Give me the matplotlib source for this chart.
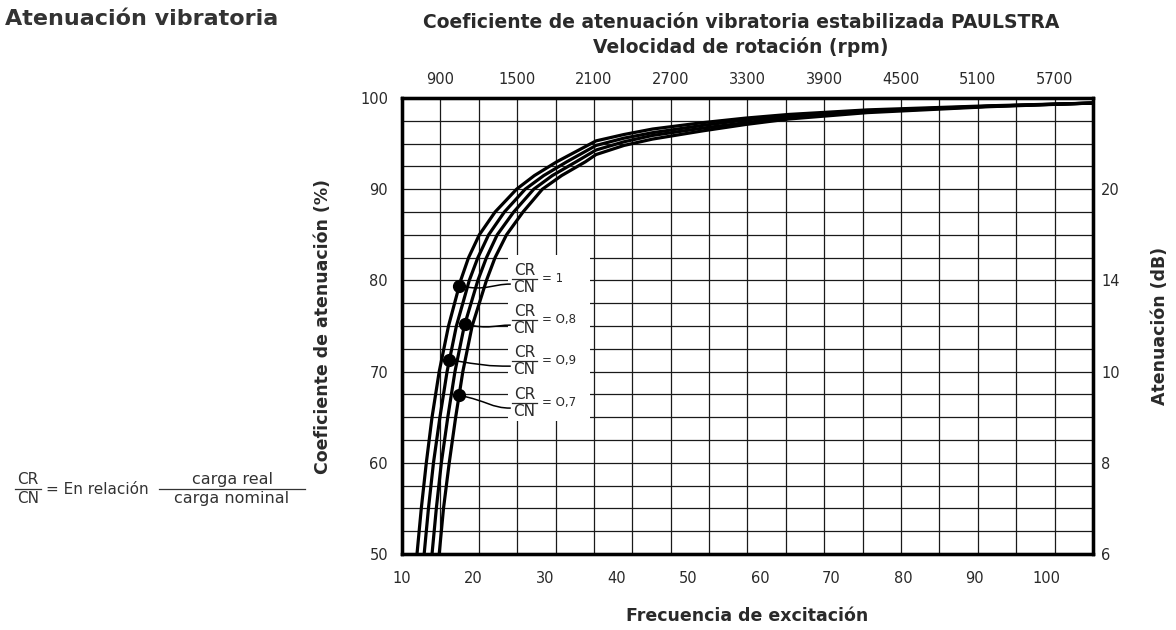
import numpy as np
import matplotlib
matplotlib.use("Agg")
import matplotlib.pyplot as plt
from matplotlib.path import Path
from matplotlib.patches import PathPatch, Rectangle
from matplotlib.lines import Line2D

plt.rcParams['font.family'] = ['DejaVu Sans']

# %% datos (frecuencia Hz, coeficiente %)
# tramo bajo: frecuencia para cada nivel de coeficiente
coef = [50, 55, 60, 65, 70, 75, 80, 82.5, 85, 87.5, 90, 91.5, 93]
f_cr10 = [12.1, 12.7, 13.4, 14.2, 15.2, 16.5, 18.2, 19.3, 20.8, 23.0, 26.0, 28.5, 31.6]
f_cr09 = [13.1, 13.7, 14.4, 15.3, 16.3, 17.6, 19.4, 20.6, 22.1, 24.3, 27.2, 29.8, 33.0]
f_cr08 = [14.2, 14.8, 15.5, 16.4, 17.4, 18.7, 20.6, 21.8, 23.3, 25.6, 28.4, 31.0, 34.3]
f_cr07 = [15.2, 15.8, 16.6, 17.5, 18.5, 19.8, 21.8, 23.0, 24.6, 26.9, 29.6, 32.3, 35.6]

# tramo alto: coeficiente para cada frecuencia
f_alto = [37.1, 41, 45, 52, 58, 64, 75, 92, 106.5]
c_cr10 = [95.3, 96.0, 96.6, 97.3, 97.8, 98.2, 98.7, 99.15, 99.45]
c_cr09 = [94.8, 95.6, 96.2, 97.0, 97.6, 98.05, 98.6, 99.1, 99.45]
c_cr08 = [94.3, 95.2, 95.9, 96.7, 97.3, 97.85, 98.5, 99.1, 99.45]
c_cr07 = [93.8, 94.8, 95.5, 96.4, 97.1, 97.7, 98.4, 99.05, 99.45]

etiquetas = ["1", "O,8", "O,9", "O,7"]
nivel_punto = [79.4, 75.2, 71.3, 67.4]      # donde va el punto sobre cada curva
nivel_etiqueta = [80.2, 75.7, 71.2, 66.6]

hz_ticks = [10, 20, 30, 40, 50, 60, 70, 80, 90, 100]
rpm_ticks = [900, 1500, 2100, 2700, 3300, 3900, 4500, 5100, 5700]
db_pos = [50, 60, 70, 80, 90]
db_labels = ["6", "8", "10", "14", "20"]

curvas = {
    "1": (f_cr10, c_cr10),
    "O,9": (f_cr09, c_cr09),
    "O,8": (f_cr08, c_cr08),
    "O,7": (f_cr07, c_cr07),
}

gris = "#2a2a2a"

# %% figura
fig = plt.figure(figsize=(11.76, 6.3), dpi=100, facecolor="white")
ax = fig.add_axes([0.3418, 0.1206, 0.5876, 0.7238])
ax_top = ax.twiny()
ax_r = ax.twinx()

ax_top.set_zorder(0)
ax.set_zorder(1)
ax_r.set_zorder(2)
ax.patch.set_visible(False)

ax.set_xlim(10, 106.5)
ax.set_ylim(50, 100)
ax_r.set_ylim(50, 100)
ax_top.set_xlim(600, 6000)

# rejilla vertical (cada 300 rpm) y horizontal (cada 2,5 %)
ax_top.set_xticks(rpm_ticks)
ax_top.set_xticks(np.arange(600, 6001, 300), minor=True)
ax_top.xaxis.grid(True, which="both", color="#1a1a1a", lw=0.9)
ax_top.set_yticks([])
ax.set_yticks([50, 60, 70, 80, 90, 100])
ax.set_yticks(np.arange(50, 100.1, 2.5), minor=True)
ax.yaxis.grid(True, which="both", color="#1a1a1a", lw=0.9)
ax.set_axisbelow(True)

ax.set_xticks(hz_ticks)
ax_r.set_yticks(db_pos)
ax_r.set_yticklabels(db_labels)

for a in (ax, ax_top, ax_r):
    a.tick_params(which="both", length=0, labelsize=10.5, colors=gris)
    for s in a.spines.values():
        s.set_linewidth(2.3)
ax.tick_params(axis="x", pad=12)
ax.tick_params(axis="y", pad=10)
ax_top.tick_params(axis="x", pad=8)
ax_r.tick_params(axis="y", pad=6)

# curvas
for nombre, (fb, fa_c) in curvas.items():
    x = list(fb) + list(f_alto)
    y = list(coef) + list(fa_c)
    ax.plot(x, y, color="black", lw=2.3, zorder=3, solid_capstyle="butt",
            solid_joinstyle="round")

# caja blanca con las etiquetas
ax.add_patch(Rectangle((24.8, 64.6), 11.5, 18.2, facecolor="white",
                       edgecolor="none", zorder=2))

for et, nivp, nivt in zip(etiquetas, nivel_punto, nivel_etiqueta):
    fb, fa_c = curvas[et]
    xd = np.interp(nivp, list(coef) + list(fa_c), list(fb) + list(f_alto))
    ax.plot(xd, nivp, "o", color="black", ms=8.5, zorder=5)
    xe, ye = 25.2, nivt - 0.6
    xm = xd + 0.55 * (xe - xd)
    camino = Path([(xd, nivp), (xm, nivp - 0.6), (xm + 0.5, ye), (xe, ye)],
                  [Path.MOVETO, Path.CURVE4, Path.CURVE4, Path.CURVE4])
    ax.add_patch(PathPatch(camino, facecolor="none", edgecolor="black",
                           lw=1.1, zorder=4))
    ax.plot([25.4, 28.8], [nivt, nivt], color=gris, lw=0.9, zorder=4)
    ax.annotate("CR", (27.1, nivt), xytext=(0, 0.5), textcoords="offset points",
                ha="center", va="bottom", fontsize=11, color=gris, zorder=4)
    ax.annotate("CN", (27.1, nivt), xytext=(0, -1), textcoords="offset points",
                ha="center", va="top", fontsize=11, color=gris, zorder=4)
    ax.annotate("= " + et, (29.5, nivt), xytext=(0, 0), textcoords="offset points",
                ha="left", va="center", fontsize=8.5, color=gris, zorder=4)

# textos
fig.text(0.004, 0.97, "Atenuación vibratoria", fontsize=16, fontweight="bold",
         color="#333333", ha="left", va="center")
fig.text(0.63, 0.965, "Coeficiente de atenuación vibratoria estabilizada PAULSTRA",
         fontsize=13.5, fontweight="bold", color=gris, ha="center", va="center")
fig.text(0.63, 0.926, "Velocidad de rotación (rpm)", fontsize=13.5,
         fontweight="bold", color=gris, ha="center", va="center")
ax.set_xlabel("Frecuencia de excitación", fontsize=12.5, fontweight="bold",
              color=gris, labelpad=15)
ax.set_ylabel("Coeficiente de atenuación (%)", fontsize=12.5, fontweight="bold",
              color=gris, labelpad=20)
ax_r.set_ylabel("Atenuación (dB)", fontsize=12.5, fontweight="bold",
                color=gris, labelpad=22)

# formula de la izquierda
def fraccion(xc, yb, arriba, abajo, ancho, size=11):
    fig.text(xc / 1176, 1 - (yb - 2) / 630, arriba, ha="center", va="bottom",
             fontsize=size, color="#333333")
    fig.text(xc / 1176, 1 - (yb + 2) / 630, abajo, ha="center", va="top",
             fontsize=size, color="#333333")
    fig.add_artist(Line2D([(xc - ancho / 2) / 1176, (xc + ancho / 2) / 1176],
                          [1 - yb / 630, 1 - yb / 630], color="#333333", lw=0.9))

fraccion(28, 489, "CR", "CN", 26)
fig.text(46 / 1176, 1 - 490 / 630, "= En relación", ha="left", va="center",
         fontsize=11, color="#333333")
fraccion(232, 489, "carga real", "carga nominal", 146, size=11.5)

fig.savefig("out.png", dpi=100, facecolor="white")
